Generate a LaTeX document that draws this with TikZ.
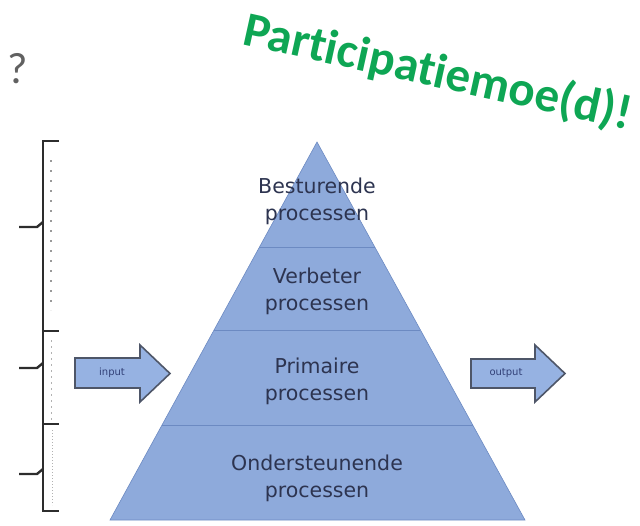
\documentclass[tikz,border=0pt]{standalone}
\usepackage{fontspec}
\newfontfamily\dejavu{DejaVu Sans}
\newfontfamily\carlito[Ligatures={NoCommon,NoRare,NoContextual}]{Carlito}
\usetikzlibrary{calc}
\definecolor{pyrfill}{RGB}{142,170,219}
\definecolor{pyrline}{RGB}{108,138,194}
\definecolor{arrfill}{RGB}{150,178,226}
\definecolor{arrline}{RGB}{78,86,104}
\definecolor{labtext}{RGB}{45,52,80}
\definecolor{arrtext}{RGB}{50,65,120}
\definecolor{wordgreen}{RGB}{14,166,84}
\definecolor{brack}{RGB}{45,45,45}
\tikzset{
  layertext/.style={font=\dejavu\fontsize{20.5}{27}\selectfont, text=labtext, align=center, inner sep=0pt},
  arrowbox/.style={fill=arrfill, draw=arrline, line width=1.6pt, line join=miter},
  arrowtext/.style={font=\dejavu\fontsize{10}{11}\selectfont, text=arrtext, inner sep=0pt},
  divider/.style={draw=pyrline, line width=0.8pt},
  bracketline/.style={draw=brack, line width=2.4pt},
}
\begin{document}
\begin{tikzpicture}[x=1pt,y=-1pt]
\useasboundingbox (0,0) rectangle (640,525);
% question mark
\node[font=\carlito\fontsize{44}{46}\selectfont, text=black!62, anchor=base west, inner sep=0pt] (q) at (7,83) {?};
% green title
\node[font=\carlito\bfseries\fontsize{49}{50}\selectfont, text=wordgreen, anchor=base west, rotate=-12.5, inner sep=0pt] (title) at (241,44) {Participatiemoe(d)!};
% pyramid
\coordinate (A) at (317,142);
\coordinate (BL) at (110,520);
\coordinate (BR) at (525,520);
\fill[pyrfill, draw=pyrline, line width=0.6pt] (A) -- (BL) -- (BR) -- cycle;
\draw[divider] ($(A)!0.2778!(BL)$) coordinate (l1) -- ($(A)!0.2778!(BR)$) coordinate (r1);
\draw[divider] ($(A)!0.4974!(BL)$) coordinate (l2) -- ($(A)!0.4974!(BR)$) coordinate (r2);
\draw[divider] ($(A)!0.7487!(BL)$) coordinate (l3) -- ($(A)!0.7487!(BR)$) coordinate (r3);
\node[layertext] (best) at (317,201) {Besturende\\processen};
\node[layertext] (verb) at (317,291) {Verbeter\\processen};
\node[layertext] (prim) at (317,381) {Primaire\\processen};
\node[layertext] (onde) at (317,478) {Ondersteunende\\processen};
% input arrow
\draw[arrowbox] (75,358) -- (140,358) -- (140,345) -- (170,373.5) -- (140,402) -- (140,388) -- (75,388) -- cycle;
\node[arrowtext] (in) at (112,373) {input};
% output arrow
\draw[arrowbox] (471,359) -- (535,359) -- (535,345) -- (565,373.5) -- (535,402) -- (535,388) -- (471,388) -- cycle;
\node[arrowtext] (out) at (506,373) {output};
% bracket
\draw[bracketline] (59,141) -- (43,141) -- (43,511) -- (59,511);
\draw[bracketline] (43,331) -- (59,331);
\draw[bracketline] (43,424) -- (59,424);
\draw[bracketline] (19,227) -- (37,227) -- (43,222);
\draw[bracketline] (19,368) -- (37,368) -- (43,363);
\draw[bracketline] (19,474) -- (37,474) -- (43,469);
\draw[black!40, line width=1.4pt, dash pattern=on 2pt off 8pt] (51,160) -- (51,310);
\draw[black!30, line width=0.8pt, dash pattern=on 2pt off 4pt] (51,340) -- (51,420);
\draw[black!30, line width=0.8pt, dash pattern=on 1pt off 2pt] (52,430) -- (52,505);
\end{tikzpicture}
\end{document}
